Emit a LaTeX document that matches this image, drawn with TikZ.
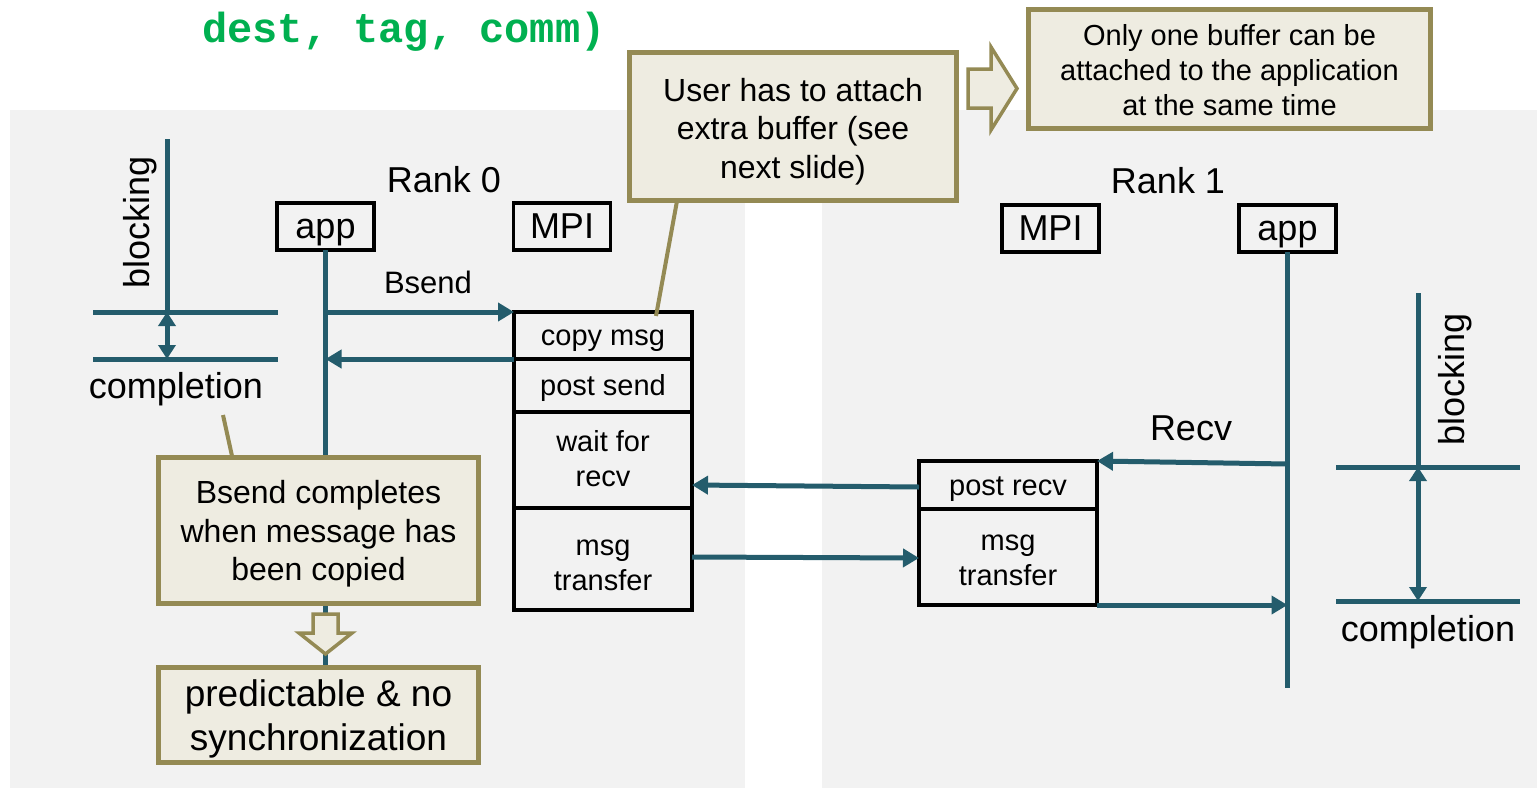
\documentclass[tikz,border=0pt]{standalone}
\usepackage{fontspec}
\setmainfont{Liberation Sans}
\newfontfamily\codefont{Liberation Mono}
\usetikzlibrary{arrows.meta}
\definecolor{panel}{HTML}{F2F2F2}
\definecolor{flow}{HTML}{245C6C}
\definecolor{olive}{HTML}{948A54}
\definecolor{notefill}{HTML}{EEECE1}
\definecolor{codegreen}{HTML}{00B050}
% invisible struts giving text lines the full ascent and descent of the font
\newcommand\linestrut{\rule[-0.212em]{0pt}{1.117em}}
% first line of a text block; the argument adds room above it
\newcommand\topline[1]{\rule{0pt}{\dimexpr0.905em+#1\relax}}
% last line of a text block
\newcommand\bottomline{\rule[-0.212em]{0pt}{0pt}}

\begin{document}
\begin{tikzpicture}[x=1pt,y=-1pt,
  font=\fontsize{36}{40}\selectfont,
  every node/.style={outer sep=0pt, inner sep=0pt},
  struts/.style={execute at begin node=\linestrut, execute at end node=\linestrut},
  lane/.style={draw=black, line width=3.5pt, minimum width=97pt, minimum height=47pt, struts},
  stage/.style={draw=black, line width=4pt, minimum width=178pt, align=center,
    font=\fontsize{29}{35}\selectfont, anchor=north west},
  flowline/.style={draw=flow, line width=5pt},
  flowarrow/.style={flowline, -{Triangle[length=16pt,width=18pt]}},
  spanarrow/.style={flowline, {Triangle[length=14pt,width=17pt]}-{Triangle[length=14pt,width=17pt]}},
  notebox/.style={draw=olive, fill=notefill, line width=5pt, align=center},
  pointer/.style={draw=olive, line width=4pt},
  bigarrow/.style={draw=olive, fill=notefill, line width=3.5pt, line join=miter}
]
\useasboundingbox (0,0) rectangle (1537,788);

% background panels of the two ranks
\fill[panel] (10,110) rectangle (745,788);
\fill[panel] (822,110) rectangle (1537,788);

% code fragment at the top
\node[anchor=base, font=\codefont\bfseries\fontsize{42}{46}\selectfont, text=codegreen]
  (code) at (404,42) {dest, tag, comm)};

% ---------- rank 0 ----------
\node[anchor=base] (rank0) at (444,192) {Rank 0};
\node[lane] (app0) at (325.5,226.5) {app};
\node[lane] (mpi0) at (562,226.5) {MPI};

\node[stage, minimum height=47pt, struts]  (copy)  at (514,312) {copy msg};
\node[stage, minimum height=53pt, struts]  (postsend) at (514,359) {post send};
\node[stage, minimum height=96pt]  (waitrecv) at (514,412)
  {\topline{-2pt}wait for\\recv\bottomline};
\node[stage, minimum height=102pt] (xfer0) at (514,508)
  {\topline{8pt}msg\\transfer\bottomline};

% ---------- rank 1 ----------
\node[anchor=base] (rank1) at (1168,193) {Rank 1};
\node[lane] (mpi1) at (1050.5,228.5) {MPI};
\node[lane] (app1) at (1287.5,228.5) {app};

\node[stage, minimum height=48pt, struts] (postrecv) at (919,461) {post recv};
\node[stage, minimum height=96pt] (xfer1) at (919,509)
  {\topline{1pt}msg\\transfer\bottomline};

% end points of the lifelines
\coordinate (predtop) at (318.5,667);
\coordinate (end1) at (1287.5,688);

% lifelines
\draw[flowline] (app0.south) -- (app0.south |- predtop);
\draw[flowline] (app1.south) -- (end1);

% messages of rank 0
\draw[flowarrow] (app0.south |- copy.north west) -- (copy.north west);
\node[anchor=base, font=\fontsize{31}{36}\selectfont] (bsend) at (428,293) {Bsend};
\draw[flowarrow] (copy.south west) -- (copy.south west -| app0.south);

% messages between the ranks
\draw[flowarrow] (postrecv.west |- 0,487) -- (waitrecv.east |- 0,485);
\draw[flowarrow] (xfer0.east |- 0,557) -- (xfer1.west |- 0,558);

% messages of rank 1
\draw[flowarrow] (app1.south |- 0,464) -- (postrecv.north east);
\node[anchor=base] (recv) at (1191,440) {Recv};
\draw[flowarrow] (xfer1.south east) -- (xfer1.south east -| app1.south);

% blocking / completion markers, rank 0
\coordinate (blk0) at (167,139);
\coordinate (b0l) at (93,312);  \coordinate (b0r) at (278,312);
\coordinate (c0l) at (93,359);  \coordinate (c0r) at (278,359);
\draw[flowline] (blk0) -- (blk0 |- b0l);
\draw[flowline] (b0l) -- (b0r);
\draw[flowline] (c0l) -- (c0r);
\draw[spanarrow] (blk0 |- b0l) -- (blk0 |- c0l);
\node[rotate=90] (blocking0) at (140,222) {blocking};
\node[anchor=base] (completion0) at (176,398) {completion};

% blocking / completion markers, rank 1
\coordinate (blk1) at (1418,293);
\coordinate (b1l) at (1336,467); \coordinate (b1r) at (1520,467);
\coordinate (c1l) at (1336,601); \coordinate (c1r) at (1520,601);
\draw[flowline] (blk1) -- (blk1 |- b1l);
\draw[flowline] (b1l) -- (b1r);
\draw[flowline] (c1l) -- (c1r);
\draw[spanarrow] (blk1 |- b1l) -- (blk1 |- c1l);
\node[rotate=90] (blocking1) at (1455,379) {blocking};
\node[anchor=base] (completion1) at (1428,641) {completion};

% callout pointers
\coordinate (attachtip) at (656,316);
\coordinate (copiedtip) at (223,415);
\draw[pointer] (attachtip) -- (679,190);
\draw[pointer] (copiedtip) -- (234,465);

% callouts
\node[notebox, minimum width=327pt, minimum height=148pt, font=\fontsize{32}{38.5}\selectfont]
  (attach) at (793,126.5) {\topline{4pt}User has to attach\\extra buffer (see\\next slide)\bottomline};
\node[notebox, minimum width=402pt, minimum height=119pt, font=\fontsize{29}{35}\selectfont]
  (onebuf) at (1229.5,69) {\topline{3pt}Only one buffer can be\\attached to the application\\at the same time\bottomline};
\node[notebox, minimum width=320pt, minimum height=146pt, font=\fontsize{32}{38.5}\selectfont]
  (copied) at (318.5,530) {\topline{2pt}Bsend completes\\when message has\\been copied\bottomline};
\node[notebox, minimum width=320pt, minimum height=95pt, font=\fontsize{37}{44}\selectfont]
  (pred) at (318.5,715) {\topline{2pt}predictable \& no\\synchronization\bottomline};

% block arrows between the callouts
\draw[bigarrow] (968,69) -- (991,69) -- (991,47) -- (1017,88.5) -- (991,130) -- (991,108) -- (968,108) -- cycle;
\draw[bigarrow] (313,614) -- (338,614) -- (338,633) -- (352,633) -- (325.5,654) -- (299,633) -- (313,633) -- cycle;
\end{tikzpicture}
\end{document}
